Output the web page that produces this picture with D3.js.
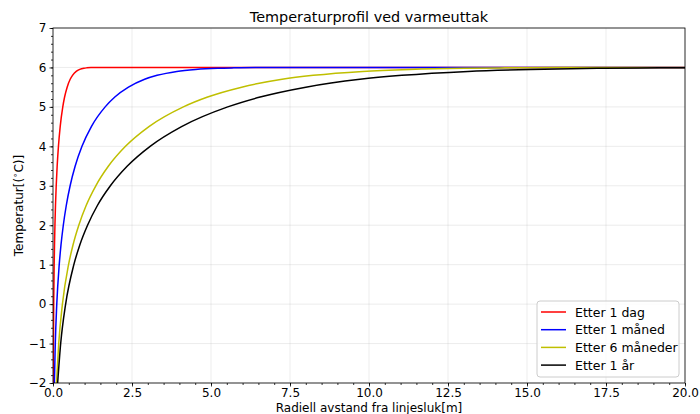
<!DOCTYPE html>
<html><head><meta charset="utf-8">
<script src="https://cdn.jsdelivr.net/npm/d3@7"></script>
<style>body{margin:0;background:#fff}svg{display:block;font-family:"DejaVu Sans",sans-serif}</style>
</head><body><svg id="c" width="700" height="414"></svg>
<script>
// Data (radius [m], temperature [°C])
const seriesNames = ["Etter 1 dag", "Etter 1 måned", "Etter 6 måneder", "Etter 1 år"];
const day1 = [[0.008,-2],[0.0136,-1],[0.0224,0],[0.0369,1],[0.0475,1.5],[0.0612,2],[0.0787,2.5],[0.1016,3],[0.1317,3.5],[0.172,4],[0.2277,4.5],[0.3095,5],[0.367,5.25],[0.4478,5.5],[0.5437,5.7],[0.6178,5.8],[0.7348,5.9],[0.8464,5.95],[0.9767,5.98],[1.0733,5.99],[1.2,5.997],[20,6.0]];
const month1 = [[0.0439,-2],[0.0724,-1],[0.1193,0],[0.197,1],[0.253,1.5],[0.326,2],[0.42,2.5],[0.542,3],[0.702,3.5],[0.917,4],[1.214,4.5],[1.651,5],[1.957,5.25],[2.388,5.5],[2.9,5.7],[3.295,5.8],[3.919,5.9],[4.514,5.95],[5.209,5.98],[5.724,5.99],[6.4,5.997],[20,6.0]];
const month6 = [[0.11,-2],[0.181,-1],[0.298,0],[0.492,1],[0.633,1.5],[0.816,2],[1.049,2.5],[1.355,3],[1.756,3.5],[2.294,4],[3.036,4.5],[4.126,5],[4.893,5.25],[5.97,5.5],[7.249,5.7],[8.237,5.8],[9.798,5.9],[11.29,5.95],[13.02,5.98],[14.31,5.99],[16.0,5.997],[20,6.0]];
const year1 = [[0.147,-2],[0.243,-1],[0.4,0],[0.66,1],[0.848,1.5],[1.093,2],[1.405,2.5],[1.816,3],[2.353,3.5],[3.073,4],[4.068,4.5],[5.529,5],[6.556,5.25],[8.0,5.5],[9.713,5.7],[11.04,5.8],[13.13,5.9],[15.12,5.95],[17.45,5.98],[19.18,5.99],[20,5.993]];
const xTicks = [0, 2.5, 5, 7.5, 10, 12.5, 15, 17.5, 20];
const yTicks = [-2, -1, 0, 1, 2, 3, 4, 5, 6, 7];
const colors = ["#ff0000", "#0000ff", "#bfbf00", "#000000"];
const allSeries = [day1, month1, month6, year1];

const svg = d3.select("#c");
const L = 53, T = 28, R = 685, B = 383;
const x = d3.scaleLinear().domain([0, 20]).range([L, R]);
const y = d3.scaleLinear().domain([-2, 7]).range([B, T]);

// grid
const g = svg.append("g");
g.selectAll(".gx").data(xTicks).enter().append("line")
  .attr("x1", d => x(d)).attr("x2", d => x(d)).attr("y1", T).attr("y2", B)
  .attr("stroke", "#b0b0b0").attr("stroke-opacity", 0.3).attr("stroke-width", 0.8);
g.selectAll(".gy").data(yTicks).enter().append("line")
  .attr("y1", d => y(d)).attr("y2", d => y(d)).attr("x1", L).attr("x2", R)
  .attr("stroke", "#b0b0b0").attr("stroke-opacity", 0.3).attr("stroke-width", 0.8);

svg.append("defs").append("clipPath").attr("id", "clip")
  .append("rect").attr("x", L).attr("y", T).attr("width", R - L).attr("height", B - T);

const line = d3.line().x(d => x(d[0])).y(d => y(d[1])).curve(d3.curveMonotoneX);
svg.append("g").attr("clip-path", "url(#clip)").selectAll("path").data(allSeries).enter()
  .append("path").attr("d", line).attr("fill", "none")
  .attr("stroke", (d, i) => colors[i]).attr("stroke-width", 1.5);

// axes
const fmtX = d => d.toFixed(1);
const fmtY = d => d < 0 ? "\u2212" + Math.abs(d) : String(d);
const xAxis = d3.axisBottom(x).tickValues(xTicks).tickFormat(fmtX).tickSize(3.5).tickPadding(2);
const xMinor = d3.axisBottom(x).tickValues(d3.range(0, 20.01, 0.5)).tickFormat("").tickSize(2);
const yAxis = d3.axisLeft(y).tickValues(yTicks).tickFormat(fmtY).tickSize(3.5).tickPadding(3);
const yMinor = d3.axisLeft(y).tickValues(d3.range(-2, 7.001, 0.2)).tickFormat("").tickSize(2);

function style(sel) {
  sel.select(".domain").remove();
  sel.selectAll("line").attr("stroke", "#000").attr("stroke-width", 0.8);
  sel.selectAll("text").attr("font-size", 12).attr("fill", "#000").attr("font-family", "DejaVu Sans");
}
svg.append("g").attr("transform", `translate(0,${B})`).call(xMinor).call(style);
svg.append("g").attr("transform", `translate(0,${B})`).call(xAxis).call(style);
svg.append("g").attr("transform", `translate(${L},0)`).call(yMinor).call(style);
svg.append("g").attr("transform", `translate(${L},0)`).call(yAxis).call(style);

// frame
svg.append("rect").attr("x", L).attr("y", T).attr("width", R - L).attr("height", B - T)
  .attr("fill", "none").attr("stroke", "#000").attr("stroke-width", 0.8);

// title and labels
svg.append("text").attr("x", (L + R) / 2).attr("y", 22).attr("text-anchor", "middle")
  .attr("font-size", 14.4).text("Temperaturprofil ved varmeuttak");
svg.append("text").attr("x", (L + R) / 2).attr("y", 412).attr("text-anchor", "middle")
  .attr("font-size", 12).text("Radiell avstand fra linjesluk[m]");
const yl = svg.append("text").attr("transform", `translate(23,${(T + B) / 2}) rotate(-90)`)
  .attr("text-anchor", "middle").attr("font-size", 12);
yl.append("tspan").text("Temperatur[(");
yl.append("tspan").attr("font-size", 8.5).attr("dy", -5).text("\u2218");
yl.append("tspan").attr("dy", 5).text("C)]");

// legend
const lg = svg.append("g");
lg.append("rect").attr("x", 537).attr("y", 301).attr("width", 142).attr("height", 76)
  .attr("rx", 3).attr("fill", "#fff").attr("fill-opacity", 0.8).attr("stroke", "#ccc").attr("stroke-width", 1);
seriesNames.forEach((n, i) => {
  const yy = 312 + i * 17.7;
  lg.append("line").attr("x1", 541).attr("x2", 566).attr("y1", yy).attr("y2", yy)
    .attr("stroke", colors[i]).attr("stroke-width", 1.5);
  lg.append("text").attr("x", 575).attr("y", yy + 4.5).attr("font-size", 12.5).text(n);
});
</script></body></html>
